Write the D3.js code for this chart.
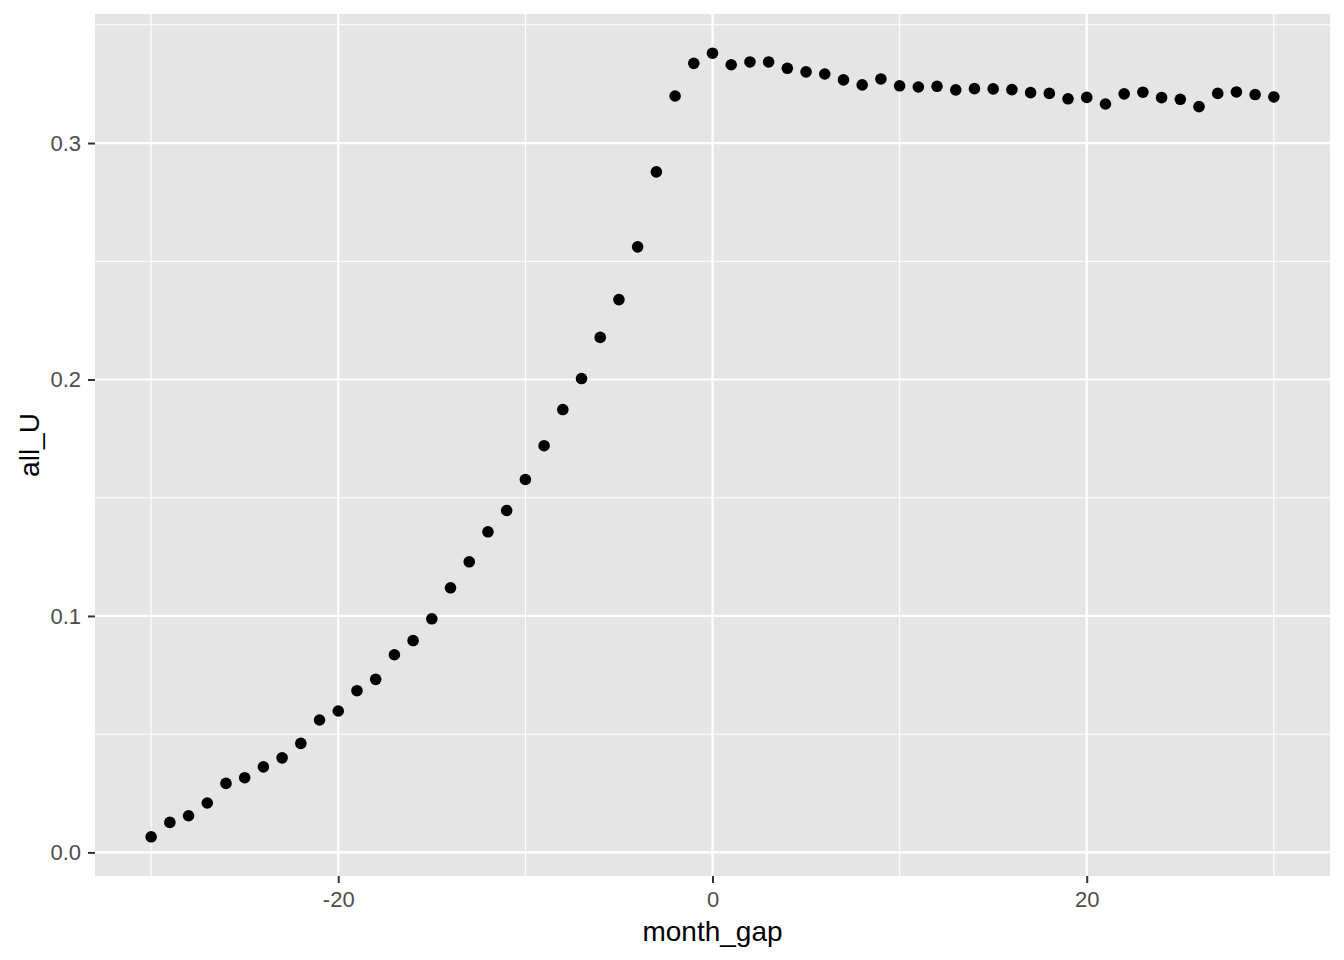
<!DOCTYPE html>
<html>
<head>
<meta charset="utf-8">
<script src="https://cdn.jsdelivr.net/npm/d3@7"></script>
<style>
  body { margin: 0; background: #fff; }
  text { font-family: "Liberation Sans", Arial, sans-serif; }
</style>
</head>
<body>
<div id="chart"></div>
<script>
// month_gap values
const monthGap = d3.range(-30, 31);

// all_U values
const allU = [
  0.0066, 0.0127, 0.0155, 0.0209, 0.0292, 0.0316, 0.0362, 0.0400, 0.0461, 0.0560,
  0.0598, 0.0684, 0.0732, 0.0836, 0.0896, 0.0988, 0.1119, 0.1229, 0.1356, 0.1446,
  0.1577, 0.1720, 0.1873, 0.2004, 0.2178, 0.2338, 0.2561, 0.2878, 0.3199, 0.3337,
  0.3380, 0.3331, 0.3343, 0.3343, 0.3316, 0.3301, 0.3292, 0.3267, 0.3246, 0.3271,
  0.3242, 0.3237, 0.3240, 0.3225, 0.3230, 0.3229, 0.3226, 0.3213, 0.3210, 0.3187,
  0.3193, 0.3165, 0.3208, 0.3215, 0.3192, 0.3185, 0.3154, 0.3210, 0.3216, 0.3205,
  0.3195
];

const xTicks = [-20, 0, 20];
const xMinor = [-30, -10, 10, 30];
const yTicks = [0.0, 0.1, 0.2, 0.3];
const yMinor = [0.05, 0.15, 0.25, 0.35];

const W = 1344, H = 960;
const panel = {left: 95, right: 1330, top: 14, bottom: 876};

const data = monthGap.map((m, i) => ({x: m, y: allU[i]}));

// ggplot style 5% expansion
function expand(ext) {
  const pad = (ext[1] - ext[0]) * 0.05;
  return [ext[0] - pad, ext[1] + pad];
}

const x = d3.scaleLinear()
  .domain(expand(d3.extent(data, d => d.x)))
  .range([panel.left, panel.right]);

const y = d3.scaleLinear()
  .domain(expand(d3.extent(data, d => d.y)))
  .range([panel.bottom, panel.top]);

const svg = d3.select("#chart")
  .append("svg")
  .attr("width", W)
  .attr("height", H);

// panel background
svg.append("rect")
  .attr("x", panel.left)
  .attr("y", panel.top)
  .attr("width", panel.right - panel.left)
  .attr("height", panel.bottom - panel.top)
  .attr("fill", "#E5E5E5");

const grid = svg.append("g");

// minor grid
grid.selectAll(".xminor").data(xMinor).enter().append("line")
  .attr("x1", d => x(d)).attr("x2", d => x(d))
  .attr("y1", panel.top).attr("y2", panel.bottom)
  .attr("stroke", "#fff").attr("stroke-width", 1.1);
grid.selectAll(".yminor").data(yMinor).enter().append("line")
  .attr("y1", d => y(d)).attr("y2", d => y(d))
  .attr("x1", panel.left).attr("x2", panel.right)
  .attr("stroke", "#fff").attr("stroke-width", 1.1);

// major grid
grid.selectAll(".xmajor").data(xTicks).enter().append("line")
  .attr("x1", d => x(d)).attr("x2", d => x(d))
  .attr("y1", panel.top).attr("y2", panel.bottom)
  .attr("stroke", "#fff").attr("stroke-width", 2.2);
grid.selectAll(".ymajor").data(yTicks).enter().append("line")
  .attr("y1", d => y(d)).attr("y2", d => y(d))
  .attr("x1", panel.left).attr("x2", panel.right)
  .attr("stroke", "#fff").attr("stroke-width", 2.2);

// axes
const xAxis = d3.axisBottom(x)
  .tickValues(xTicks)
  .tickFormat(d => String(d))
  .tickSize(7)
  .tickPadding(8);

const yAxis = d3.axisLeft(y)
  .tickValues(yTicks)
  .tickFormat(d3.format(".1f"))
  .tickSize(7)
  .tickPadding(7);

const xAxisGroup = svg.append("g")
  .attr("transform", `translate(0, ${panel.bottom})`)
  .call(xAxis);

const yAxisGroup = svg.append("g")
  .attr("transform", `translate(${panel.left}, 0)`)
  .call(yAxis);

[xAxisGroup, yAxisGroup].forEach(g => {
  g.select(".domain").remove();
  g.selectAll(".tick line").attr("stroke", "#333333").attr("stroke-width", 2);
  g.selectAll(".tick text")
    .attr("fill", "#4D4D4D")
    .style("font-size", "22px");
});

// points
svg.append("g")
  .selectAll("circle")
  .data(data)
  .enter()
  .append("circle")
  .attr("cx", d => x(d.x))
  .attr("cy", d => y(d.y))
  .attr("r", 5.8)
  .attr("fill", "#000");

// axis titles
svg.append("text")
  .attr("x", (panel.left + panel.right) / 2)
  .attr("y", 941)
  .attr("text-anchor", "middle")
  .style("font-size", "28px")
  .attr("fill", "#000")
  .text("month_gap");

svg.append("text")
  .attr("transform", "rotate(-90)")
  .attr("x", -(panel.top + panel.bottom) / 2)
  .attr("y", 39)
  .attr("text-anchor", "middle")
  .style("font-size", "28px")
  .attr("fill", "#000")
  .text("all_U");
</script>
</body>
</html>
